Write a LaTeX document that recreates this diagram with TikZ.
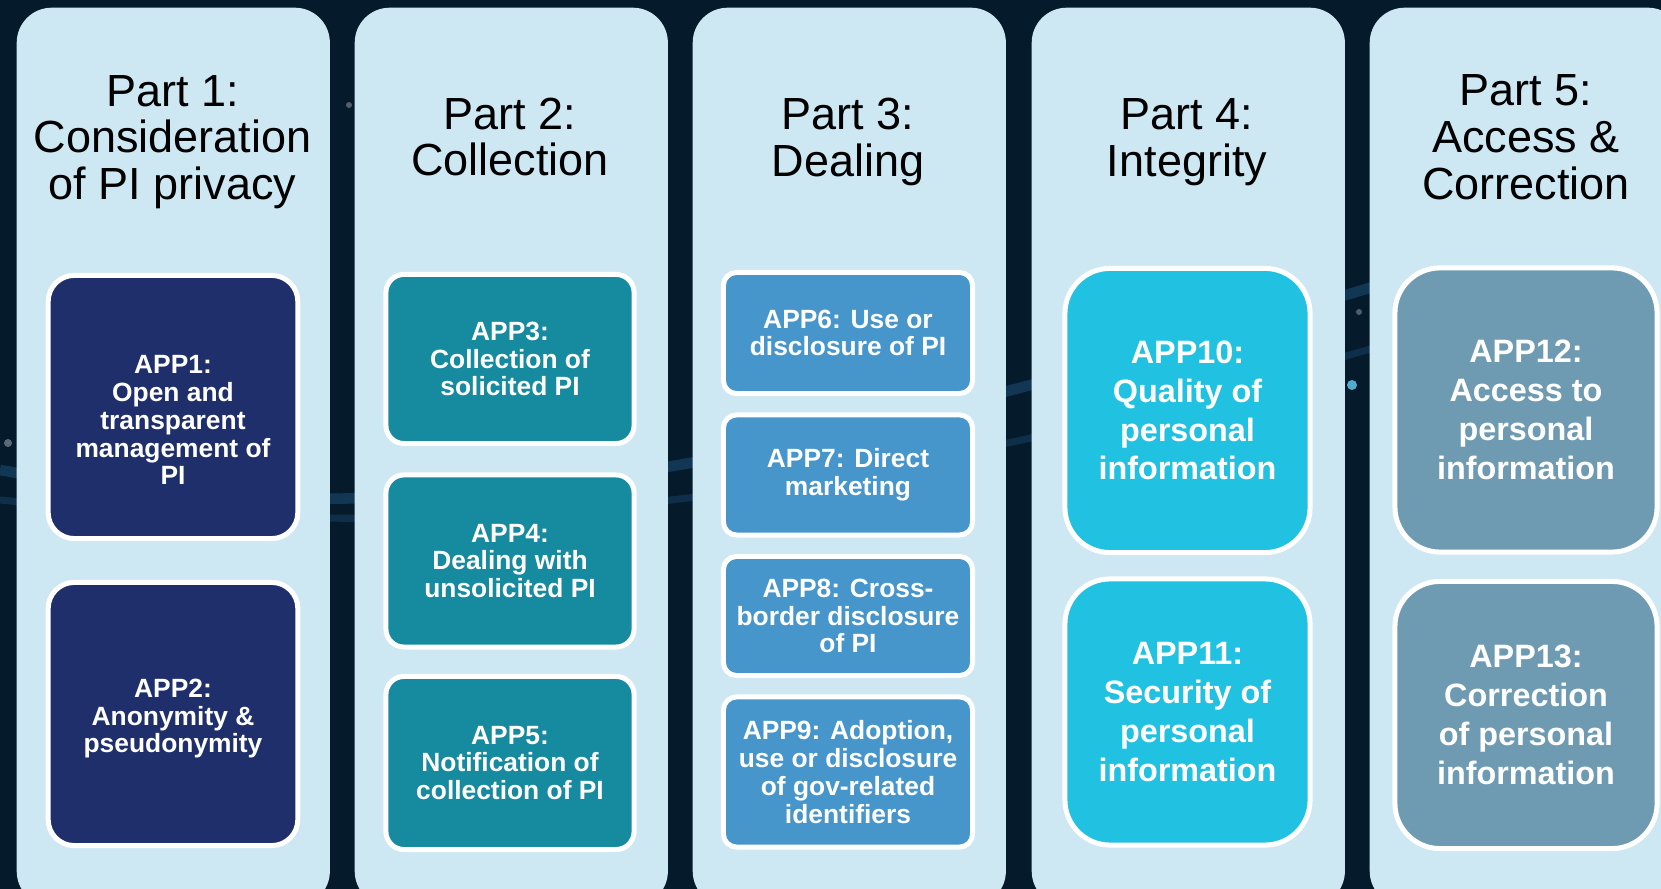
\documentclass[tikz,border=0pt]{standalone}
\usepackage{fontspec}
\setmainfont{Liberation Sans}
\usepackage{xcolor}
\definecolor{vizNight}{HTML}{051A2B}
\definecolor{vizStreak}{HTML}{3C8ED2}
\definecolor{vizPanel}{HTML}{CDE8F2}
\definecolor{vizNavy}{HTML}{1E2F6B}
\definecolor{vizTeal}{HTML}{168A9E}
\definecolor{vizSteel}{HTML}{4696CB}
\definecolor{vizCyan}{HTML}{21C1E1}
\definecolor{vizSlate}{HTML}{6E9BB1}

\begin{document}
\begin{tikzpicture}[x=0.01cm, y=-0.01cm,
  panel/.style={fill=vizPanel, rounded corners=0.35cm, inner sep=0pt,
    minimum width=3.13cm, minimum height=8.98cm, anchor=north west},
  parttitle/.style={align=center, text=black, font=\fontsize{12.8}{13.3}\selectfont},
  app/.style={draw=white, line width=1.42pt, text=white, align=center, inner sep=0pt,
    font=\bfseries\fontsize{7.5}{7.9}\selectfont},
  appbig/.style={app, font=\bfseries\fontsize{9.2}{11.05}\selectfont},
  navybox/.style={app, fill=vizNavy, rounded corners=0.26cm, minimum width=2.495cm},
  tealbox/.style={app, fill=vizTeal, rounded corners=0.18cm, minimum width=2.48cm},
  steelbox/.style={app, fill=vizSteel, rounded corners=0.13cm, minimum width=2.49cm},
  cyanbox/.style={appbig, fill=vizCyan, rounded corners=0.45cm, minimum width=2.45cm},
  slatebox/.style={appbig, fill=vizSlate, rounded corners=0.45cm, minimum width=2.62cm}]
  \path[use as bounding box] (0,0) rectangle (1661,889);
  \clip (0,0) rectangle (1661,889);
  \fill[vizNight] (0,0) rectangle (1661,889);

  % faint light trails behind the panels
  \draw[vizStreak, opacity=0.25, line width=3pt] (0,470) .. controls (500,560) and (900,430) .. (1661,200);
  \draw[vizStreak, opacity=0.18, line width=2pt] (0,500) .. controls (600,560) and (1000,470) .. (1661,260);
  \fill[cyan!60!white, opacity=0.8] (1352,385) circle (5);
  \fill[white, opacity=0.3] (1359,312) circle (3);
  \fill[white, opacity=0.3] (349,105) circle (3);
  \fill[white, opacity=0.35] (8,443) circle (4);

  \foreach \i/\x in {1/16, 2/354, 3/692, 4/1031, 5/1369}
    \node[panel] (col\i) at (\x,7) {};

  \node[parttitle] (part1) at (172.5,142) {Part 1:\\Consideration\\of PI privacy};
  \node[parttitle] (part2) at (510,137) {Part 2:\\Collection};
  \node[parttitle] (part3) at (848,142) {Part 3:\\Dealing};
  \node[parttitle] (part4) at (1187,142) {Part 4:\\Integrity};
  \node[parttitle] (part5) at (1526,137) {Part 5:\\Access \&\\Correction};

  \node[navybox, minimum height=2.63cm] (app1) at (173,407) {\mbox{}\\[4.8pt]APP1:\\Open and\\transparent\\management of\\PI};
  \node[navybox, minimum height=2.63cm] (app2) at (173,714) {\mbox{}\\APP2:\\Anonymity \&\\pseudonymity};

  \node[tealbox, minimum height=1.69cm] (app3) at (510,359) {APP3:\\Collection of\\solicited PI};
  \node[tealbox, minimum height=1.72cm] (app4) at (510,561) {APP4:\\Dealing with\\unsolicited PI};
  \node[tealbox, minimum height=1.73cm] (app5) at (510,763) {APP5:\\Notification of\\collection of PI};

  \node[steelbox, minimum height=1.21cm] (app6) at (848,333) {APP6: Use or\\disclosure of PI};
  \node[steelbox, minimum height=1.20cm] (app7) at (848,475) {APP7: Direct\\marketing};
  \node[steelbox, minimum height=1.19cm] (app8) at (848,616) {APP8: Cross-\\border disclosure\\of PI};
  \node[steelbox, minimum height=1.50cm] (app9) at (848,772) {APP9: Adoption,\\use or disclosure\\of gov-related\\identifiers};

  \node[cyanbox, minimum height=2.84cm] (app10) at (1187.5,410.5) {APP10:\\Quality of\\personal\\information};
  \node[cyanbox, minimum height=2.66cm] (app11) at (1187.5,712) {APP11:\\Security of\\personal\\information};

  \node[slatebox, minimum height=2.84cm] (app12) at (1526,410) {APP12:\\Access to\\personal\\information};
  \node[slatebox, minimum height=2.67cm] (app13) at (1526,715) {APP13:\\Correction\\of personal\\information};
\end{tikzpicture}
\end{document}
